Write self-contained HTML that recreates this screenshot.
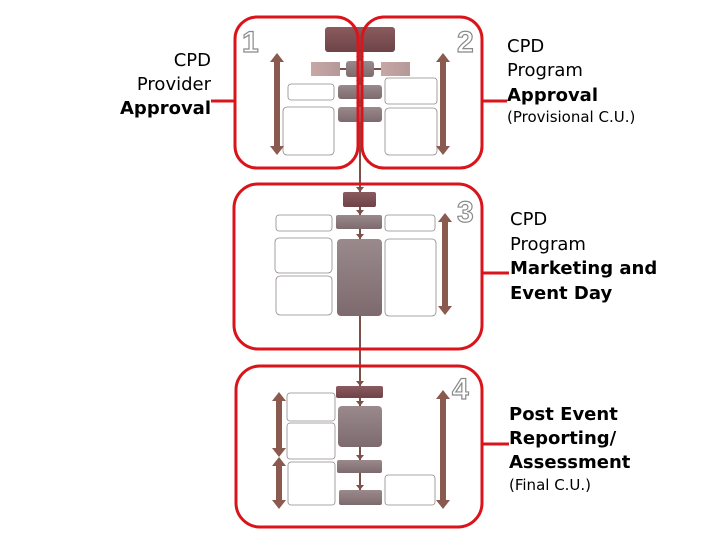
<!DOCTYPE html>
<html><head><meta charset="utf-8"><style>
html,body{margin:0;padding:0;background:#fff;width:720px;height:540px;overflow:hidden}
svg{display:block}
.t{font-family:"DejaVu Sans","Liberation Sans",sans-serif;font-size:18px;fill:#000}
.b{font-weight:bold}
.s{font-size:15px}
.num{font-family:"Liberation Sans",sans-serif;font-weight:bold;font-size:30px;fill:#fff;stroke:#8a8a8a;stroke-width:1.2}
</style></head><body>
<svg width="720" height="540" viewBox="0 0 720 540" xmlns="http://www.w3.org/2000/svg">
<defs>
<linearGradient id="dk" x1="0" y1="0" x2="0" y2="1"><stop offset="0" stop-color="#8a5a5e"/><stop offset="1" stop-color="#6e4448"/></linearGradient>
<linearGradient id="md" x1="0" y1="0" x2="0" y2="1"><stop offset="0" stop-color="#9a8a8c"/><stop offset="1" stop-color="#7d6a6e"/></linearGradient>
<linearGradient id="lt" x1="0" y1="0" x2="1" y2="0"><stop offset="0" stop-color="#c8a8a6"/><stop offset="1" stop-color="#b59898"/></linearGradient>
</defs>
<g fill="none" stroke="#7a5048" stroke-width="2">
<line x1="360" y1="52" x2="360" y2="192"/>
<line x1="360" y1="207" x2="360" y2="215"/>
<line x1="360" y1="229" x2="360" y2="239"/>
<line x1="360" y1="316" x2="360" y2="386"/>
<line x1="360" y1="398" x2="360" y2="406"/>
<line x1="360" y1="447" x2="360" y2="460"/>
<line x1="360" y1="473" x2="360" y2="490"/>
<line x1="340" y1="69" x2="346" y2="69"/>
<line x1="381" y1="69" x2="374" y2="69"/>
</g>
<g fill="#7a5048">
<path d="M356,56 h8 l-4,5z"/>
<path d="M356,80 h8 l-4,5z"/>
<path d="M356,102 h8 l-4,5z"/>
<path d="M356,187 h8 l-4,5z"/>
<path d="M356,210 h8 l-4,5z"/>
<path d="M356,234 h8 l-4,5z"/>
<path d="M356,381 h8 l-4,5z"/>
<path d="M356,401 h8 l-4,5z"/>
<path d="M356,455 h8 l-4,5z"/>
<path d="M356,485 h8 l-4,5z"/>
</g>
<g stroke="#8f8888" stroke-width="0.8" fill="#fff">
<rect x="288" y="84" width="46" height="16" rx="3"/>
<rect x="385" y="78" width="52" height="26" rx="3"/>
<rect x="283" y="107" width="51" height="48" rx="4"/>
<rect x="385" y="108" width="52" height="47" rx="4"/>
<rect x="276" y="215" width="56" height="16" rx="3"/>
<rect x="385" y="215" width="50" height="16" rx="3"/>
<rect x="275" y="238" width="57" height="35" rx="4"/>
<rect x="276" y="276" width="56" height="39" rx="4"/>
<rect x="385" y="239" width="51" height="77" rx="4"/>
<rect x="287" y="393" width="48" height="28" rx="3"/>
<rect x="287" y="423" width="48" height="36" rx="3"/>
<rect x="288" y="462" width="47" height="43" rx="3"/>
<rect x="385" y="475" width="50" height="30" rx="3"/>
</g>
<rect x="325" y="27" width="70" height="25" rx="3" fill="url(#dk)"/>
<rect x="311" y="62" width="29" height="14" fill="url(#lt)"/>
<rect x="381" y="62" width="29" height="14" fill="url(#lt)"/>
<rect x="346" y="61" width="28" height="16" rx="3" fill="url(#md)"/>
<rect x="338" y="85" width="44" height="14" rx="3" fill="url(#md)"/>
<rect x="338" y="107" width="44" height="15" rx="3" fill="url(#md)"/>
<rect x="343" y="192" width="33" height="15" rx="2" fill="url(#dk)"/>
<rect x="336" y="215" width="46" height="14" rx="2" fill="url(#md)"/>
<rect x="337" y="239" width="45" height="77" rx="4" fill="url(#md)"/>
<rect x="336" y="386" width="47" height="12" rx="2" fill="url(#dk)"/>
<rect x="338" y="406" width="44" height="41" rx="4" fill="url(#md)"/>
<rect x="337" y="460" width="45" height="13" rx="2" fill="url(#md)"/>
<rect x="339" y="490" width="43" height="15" rx="2" fill="url(#md)"/>
<g fill="#8a5a4e">
<path d="M277,53 l-7,9 h4 v84 h-4 l7,9 l7,-9 h-4 v-84 h4z"/>
<path d="M443,53 l-7,9 h4 v84 h-4 l7,9 l7,-9 h-4 v-84 h4z"/>
<path d="M445,213 l-7,9 h4 v84 h-4 l7,9 l7,-9 h-4 v-84 h4z"/>
<path d="M279,392 l-7,9 h4 v47 h-4 l7,9 l7,-9 h-4 v-47 h4z"/>
<path d="M279,457 l-7,9 h4 v34 h-4 l7,9 l7,-9 h-4 v-34 h4z"/>
<path d="M443,390 l-7,9 h4 v101 h-4 l7,9 l7,-9 h-4 v-101 h4z"/>
</g>
<g fill="none" stroke="#d9141b" stroke-width="3">
<rect x="235" y="17" width="123" height="151" rx="22"/>
<rect x="362" y="17" width="120" height="151" rx="22"/>
<rect x="234" y="184" width="248" height="165" rx="24"/>
<rect x="236" y="366" width="246" height="161" rx="24"/>
<line x1="211" y1="101" x2="235" y2="101"/>
<line x1="482" y1="101" x2="507" y2="101"/>
<line x1="482" y1="273" x2="509" y2="273"/>
<line x1="482" y1="444" x2="509" y2="444"/>
</g>
<text class="num" x="242" y="52">1</text>
<text class="num" x="457" y="52">2</text>
<text class="num" x="457" y="222">3</text>
<text class="num" x="452" y="399">4</text>
<g class="t" text-anchor="end">
<text x="211" y="66">CPD</text>
<text x="211" y="90">Provider</text>
<text x="211" y="114" class="b">Approval</text>
</g>
<g class="t">
<text x="507" y="52">CPD</text>
<text x="507" y="76">Program</text>
<text x="507" y="101" class="b">Approval</text>
<text x="507" y="122" class="s">(Provisional C.U.)</text>
<text x="510" y="225">CPD</text>
<text x="510" y="250">Program</text>
<text x="510" y="274" class="b">Marketing and</text>
<text x="510" y="299" class="b">Event Day</text>
<text x="509" y="420" class="b">Post Event</text>
<text x="509" y="444" class="b">Reporting/</text>
<text x="509" y="468" class="b">Assessment</text>
<text x="509" y="490" class="s">(Final C.U.)</text>
</g>
</svg>
</body></html>
